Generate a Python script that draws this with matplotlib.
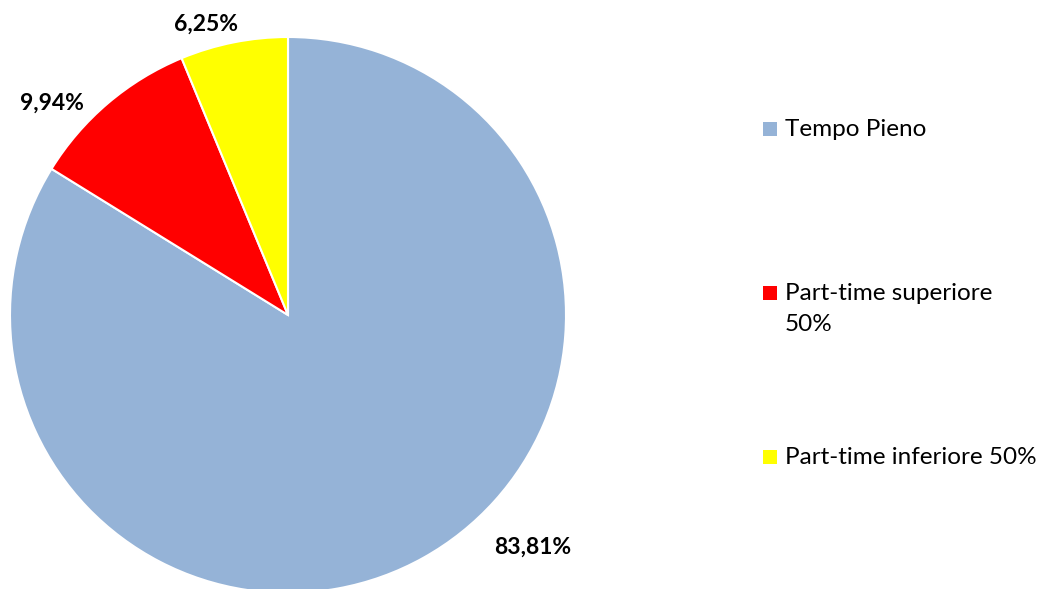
import matplotlib
matplotlib.use("Agg")
import matplotlib.pyplot as plt

categories = ["Tempo Pieno", "Part-time superiore\n50%", "Part-time inferiore 50%"]
values = [83.81, 9.94, 6.25]
labels = ["83,81%", "9,94%", "6,25%"]
colors = ["#95B3D7", "#FF0000", "#FFFF00"]

plt.rcParams['font.family'] = ['Lato', 'DejaVu Sans']

W, H = 1044, 589
fig = plt.figure(figsize=(W / 100, H / 100), dpi=100)
cx, cy, r = 288, 315, 278
ax = fig.add_axes([(cx - r) / W, (H - cy - r) / H, 2 * r / W, 2 * r / H])
ax.pie(values, colors=colors, startangle=90, counterclock=False,
       wedgeprops=dict(edgecolor="white", linewidth=1.5), radius=1)
ax.set_xlim(-1, 1)
ax.set_ylim(-1, 1)
ax.set_aspect("equal")
ax.axis("off")

label_pos = [(533, 547), (52, 103), (206, 24)]
for lab, (px, py) in zip(labels, label_pos):
    fig.text(px / W, 1 - py / H, lab, ha="center", va="center",
             fontsize=16.5, fontweight="bold", color="black")

leg_y = [129, 293, 457]
for cat, col, py in zip(categories, colors, leg_y):
    fig.patches.append(plt.Rectangle((763 / W, 1 - (py + 7) / H), 14 / W, 14 / H,
                                     facecolor=col, transform=fig.transFigure, figure=fig))
    fig.text(785 / W, 1 - (py - 10) / H, cat, ha="left", va="top", fontsize=17.5,
             color="black", linespacing=1.6)

fig.savefig("out.png", dpi=100)
